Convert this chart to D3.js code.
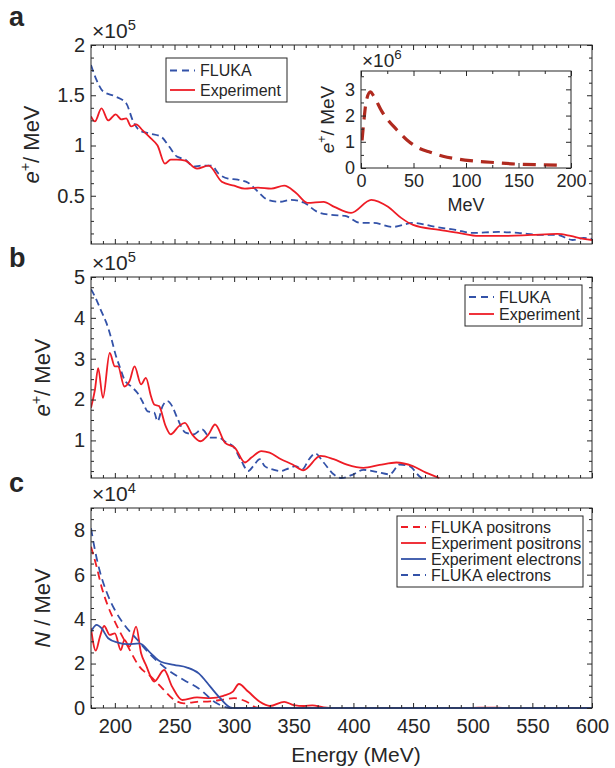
<!DOCTYPE html>
<html>
<head>
<meta charset="utf-8">
<script src="https://cdn.jsdelivr.net/npm/d3@7"></script>
<style>
  body { margin: 0; background: #fff; }
  svg text { font-family: "Liberation Sans", Arial, Helvetica, sans-serif; fill: #262626; }
</style>
</head>
<body>
<div id="app"></div>
<script>
// ---- data (energy in MeV, counts already divided by the axis multiplier) ----
// panel a, x 1e5
const aFluka = [[180,1.80],[184.7,1.65],[190,1.54],[200,1.49],[209.5,1.42],[215,1.25],[220.6,1.15],[229,1.12],[238.5,1.09],[245.5,0.99],[252,0.89],[259,0.86],[266,0.79],[273,0.80],[281,0.80],[287,0.72],[295,0.67],[303,0.66],[311.7,0.63],[320,0.54],[328,0.46],[338,0.44],[347.6,0.46],[358.7,0.43],[369.7,0.34],[380.7,0.31],[393,0.30],[405.6,0.23],[416.7,0.23],[433,0.19],[450,0.23],[469,0.19],[485.7,0.16],[499.5,0.13],[521.6,0.14],[538,0.13],[557.5,0.11],[571,0.11],[583.6,0.06],[593,0.08],[600,0.07]]
const aExp = [[180,1.29],[183.3,1.24],[188.8,1.37],[194.4,1.25],[200.7,1.31],[205.4,1.26],[209.5,1.27],[213.6,1.19],[217.8,1.21],[223.3,1.15],[230.2,1.07],[235.8,1.00],[242,0.82],[246.8,0.86],[252,0.86],[259,0.85],[268.9,0.77],[278.6,0.80],[289.6,0.64],[300,0.60],[309,0.57],[320,0.58],[331,0.57],[342,0.60],[351.7,0.53],[361.4,0.43],[375,0.44],[384,0.39],[398,0.33],[415,0.46],[429,0.39],[440,0.28],[450,0.21],[472,0.16],[488,0.13],[505,0.10],[527,0.10],[549,0.11],[571,0.12],[582,0.10],[593,0.07],[600,0.06]]
// inset, x 1e6
const insetData = [[1,1.05],[3,1.9],[5,2.55],[9,2.9],[12,2.75],[19.7,2.17],[34,1.46],[43.5,1.08],[54,0.78],[66,0.6],[78,0.45],[91,0.35],[104,0.28],[123,0.22],[148,0.15],[174,0.12],[192,0.10]]
// panel b, x 1e5
const bFluka = [[180,4.70],[183.3,4.52],[188.8,4.15],[193,3.87],[197,3.5],[201,3.06],[204,2.81],[208,2.49],[213.7,2.32],[219,2.16],[223,1.96],[227.5,1.71],[233,1.68],[235.8,1.47],[240,1.84],[244,1.96],[248,1.84],[252.3,1.55],[259.3,1.19],[266,1.15],[273,1.27],[280,1.07],[287,1.07],[293.7,0.94],[299,0.86],[306,0.50],[311.7,0.25],[316,0.37],[321.5,0.54],[325.6,0.37],[332.4,0.29],[339,0.25],[343.5,0.29],[351.7,0.37],[357,0.29],[362.8,0.54],[368,0.68],[375,0.46],[383.4,0.17],[390,0.08],[400,0.17],[408.4,0.28],[419.4,0.23],[430.4,0.17],[438.7,0.41],[447,0.37],[455,0.13],[461,0.0]]
const bExp = [[180,1.80],[183.3,2.24],[186,2.77],[190,2.04],[195.7,3.14],[200,2.81],[202.6,2.81],[208,2.32],[212.3,2.45],[216.5,2.81],[222,2.37],[226,2.53],[230.3,2.08],[233,1.88],[237,1.84],[242.6,1.35],[246.8,1.15],[253.7,1.35],[258.7,1.43],[264.7,1.15],[271.7,0.98],[278.6,1.15],[284,1.39],[292.4,0.94],[300.7,0.82],[309,0.46],[314.5,0.58],[322.8,0.74],[329.7,0.70],[339.3,0.54],[349,0.41],[358,0.27],[372.4,0.62],[383.4,0.54],[394.6,0.41],[408.4,0.33],[422,0.40],[436,0.46],[449.8,0.37],[460.8,0.21],[472,0.08]]
// panel c, x 1e4
const cFlukaPos = [[180,7.26],[184.7,6.36],[188.8,5.46],[194.4,4.56],[201.3,3.74],[211,2.76],[220.6,1.86],[230.2,1.41],[238.5,0.96],[248,0.44],[257.8,0.21],[268.9,0.28],[280,0.30],[291,0.38],[300,0.44],[307,0.36],[313,0.21],[318,0.03],[325,0],[600,0]]
const cExpPos = [[180,3.59],[184,2.58],[187.5,3.21],[191,3.69],[195.7,3.29],[200,3.36],[205,2.61],[208,3.06],[212.3,2.76],[217.8,3.66],[222,2.46],[226,1.94],[233,1.19],[241.3,1.71],[248,0.96],[256.5,0.36],[268.9,0.48],[280,0.44],[291,0.55],[299,0.74],[304,1.08],[311.7,0.74],[321.5,0.28],[330,0.09],[342,0.28],[350,0.13],[358.6,0.09],[365.6,0.12],[375,0.03],[385,0],[495,0],[505,0.02],[520,0.02],[530,0],[600,0]]
const cExpEle = [[180,3.43],[184.7,3.74],[188.8,3.59],[194.4,3.14],[202.6,2.94],[211,2.87],[220.6,2.91],[230.2,2.46],[238.5,2.08],[249.6,1.94],[260.6,1.82],[270.3,1.56],[280,0.96],[288.3,0.44],[296.6,0.03],[300,0],[600,0]]
const cFlukaEle = [[180,8.09],[183.3,7.11],[187.5,6.13],[193,5.23],[200,4.41],[208,3.74],[219,3.06],[230,2.39],[242.6,1.79],[257.8,1.26],[270,0.89],[285.5,0.21],[296.6,0],[600,0]]

// tick values
const xMajor = [200, 250, 300, 350, 400, 450, 500, 550, 600]
const aTicks = [0.5, 1, 1.5, 2]
const bTicks = [1, 2, 3, 4, 5]
const cTicks = [0, 2, 4, 6, 8]
const insetXTicks = [0, 50, 100, 150, 200]
const insetYTicks = [0, 1, 2, 3]

const red = '#ee1c25', blue = '#3352a8', darkRed = '#b02a1f', ink = '#262626'

const plotLeft = 91, plotRight = 592

const svg = d3.select('#app')
              .append('svg')
                .attr('width', 615)
                .attr('height', 768)

const xScale = d3.scaleLinear()
                  .domain([180, 600])
                  .range([plotLeft, plotRight])

// MATLAB-like box: ticks inward on all four sides
function drawAxes(g, x, y, o) {
  const [x0, x1] = x.range()
  const [y0, y1] = y.range()
  const sides = [
    { gen: d3.axisBottom, scale: x, t: `translate(0,${y0})`, major: o.xMajor, minor: o.xMinor, labels: o.xLabels, pad: o.xPad },
    { gen: d3.axisTop, scale: x, t: `translate(0,${y1})`, major: o.xMajor, minor: o.xMinor, labels: false },
    { gen: d3.axisLeft, scale: y, t: `translate(${x0},0)`, major: o.yMajor, minor: o.yMinor, labels: true, pad: o.yPad },
    { gen: d3.axisRight, scale: y, t: `translate(${x1},0)`, major: o.yMajor, minor: o.yMinor, labels: false },
  ]
  sides.forEach(s => {
    const minorVals = s.minor.filter(v => !s.major.some(m => Math.abs(m - v) < 1e-9))
    const mn = g.append('g').attr('transform', s.t)
                .call(s.gen(s.scale).tickValues(minorVals).tickSize(-3).tickFormat(''))
    const mj = g.append('g').attr('transform', s.t)
                .call(s.gen(s.scale).tickValues(s.major).tickSize(-5)
                       .tickPadding(s.pad || 3)
                       .tickFormat(s.labels ? d3.format('~g') : ''))
    ;[mn, mj].forEach(a => {
      a.select('.domain').remove()
      a.selectAll('line').attr('stroke', ink)
      a.selectAll('text').attr('font-size', o.fontSize)
    })
  })
  g.append('rect')
    .attr('x', x0).attr('y', y1)
    .attr('width', x1 - x0).attr('height', y0 - y1)
    .attr('fill', 'none').attr('stroke', ink).attr('stroke-width', 1)
}

function drawSeries(g, x, y, series, clipId) {
  const [x0, x1] = x.range()
  const [y0, y1] = y.range()
  // a little slack at the bottom so lines lying on zero stay visible
  svg.append('clipPath').attr('id', clipId)
     .append('rect').attr('x', x0).attr('y', y1).attr('width', x1 - x0).attr('height', y0 - y1 + 1.5)
  const line = d3.line()
                 .x(d => x(d[0]))
                 .y(d => y(d[1]))
                 .curve(d3.curveMonotoneX)
  g.append('g')
    .attr('clip-path', `url(#${clipId})`)
    .selectAll('path')
    .data(series)
    .join('path')
      .attr('d', d => line(d.data))
      .attr('fill', 'none')
      .attr('stroke', d => d.color)
      .attr('stroke-width', d => d.width || 1.8)
      .attr('stroke-dasharray', d => d.dash)
}

function drawLegend(g, box, series) {
  g.append('rect')
    .attr('x', box.x).attr('y', box.y).attr('width', box.w).attr('height', box.h)
    .attr('fill', '#fff').attr('stroke', ink).attr('stroke-width', 1)
  const rows = g.selectAll('.row')
                .data(series)
                .join('g')
                  .attr('transform', (d, i) => `translate(0,${box.rows[i]})`)
  rows.append('line')
    .attr('x1', box.x + 4).attr('x2', box.x + 29)
    .attr('stroke', d => d.color).attr('stroke-width', 1.8)
    .attr('stroke-dasharray', d => d.dash ? '7,5' : null)
  rows.append('text')
    .attr('x', box.x + 34).attr('dy', '0.35em')
    .attr('font-size', 16)
    .text(d => d.name)
}

function multiplier(g, x, y, exp, size) {
  const t = g.append('text').attr('x', x).attr('y', y).attr('font-size', size)
  t.append('tspan').text('×10')
  t.append('tspan').attr('font-size', size * 0.7).attr('dy', -size * 0.4).text(exp)
}

function yLabel(g, x, y, size, italic, rest) {
  const t = g.append('text')
              .attr('transform', `translate(${x},${y}) rotate(-90)`)
              .attr('text-anchor', 'middle')
              .attr('font-size', size)
  t.append('tspan').attr('font-style', 'italic').text(italic)
  if (italic === 'e') {
    t.append('tspan').attr('font-size', size * 0.65).attr('dy', -size * 0.4).text('+')
    t.append('tspan').attr('dy', size * 0.4).text('/ MeV')
  } else {
    t.append('tspan').text(rest)
  }
}

const minorX = d3.range(180, 601, 10)

// panels
const panels = [
  { letter: 'a', letterY: 26, top: 45, bottom: 244, domain: [0.02, 2], ticks: aTicks, minor: d3.range(0.125, 2.01, 0.125), exp: '5',
    ylabX: 39, italic: 'e',
    series: [
      { name: 'FLUKA', data: aFluka, color: blue, dash: '7,4' },
      { name: 'Experiment', data: aExp, color: red }
    ],
    legend: { x: 166, y: 58, w: 121, h: 44, rows: [70.5, 90] } },
  { letter: 'b', letterY: 267, top: 277, bottom: 478, domain: [0.08, 5], ticks: bTicks, minor: d3.range(0.25, 5.01, 0.25), exp: '5',
    ylabX: 50, italic: 'e',
    series: [
      { name: 'FLUKA', data: bFluka, color: blue, dash: '7,4' },
      { name: 'Experiment', data: bExp, color: red }
    ],
    legend: { x: 465, y: 285, w: 117, h: 41, rows: [297, 314] } },
  { letter: 'c', letterY: 492, top: 508, bottom: 708, domain: [0, 9], ticks: cTicks, minor: d3.range(0, 9.01, 0.5), exp: '4',
    ylabX: 50, italic: 'N', rest: ' / MeV', xLabels: true,
    series: [
      { name: 'FLUKA positrons', data: cFlukaPos, color: red, dash: '8,5' },
      { name: 'Experiment positrons', data: cExpPos, color: red },
      { name: 'Experiment electrons', data: cExpEle, color: blue },
      { name: 'FLUKA electrons', data: cFlukaEle, color: blue, dash: '8,5' }
    ],
    legend: { x: 397, y: 516, w: 186, h: 71, rows: [527, 543, 559, 575] } }
]

panels.forEach((p, i) => {
  const g = svg.append('g')
  const yScale = d3.scaleLinear().domain(p.domain).range([p.bottom, p.top])
  drawSeries(g, xScale, yScale, p.series, 'clip' + i)
  drawAxes(g, xScale, yScale, {
    xMajor: xMajor, xMinor: minorX, xLabels: !!p.xLabels, xPad: 11,
    yMajor: p.ticks, yMinor: p.minor, yPad: 6, fontSize: 20
  })
  drawLegend(g, p.legend, p.series)
  multiplier(g, plotLeft + 1, p.top - 7, p.exp, 21)
  yLabel(g, p.ylabX, (p.top + p.bottom) / 2, 22, p.italic, p.rest)
  g.append('text')
    .attr('x', 9).attr('y', p.letterY)
    .attr('font-size', 27).attr('font-weight', 'bold')
    .text(p.letter)
})

// x axis title
svg.append('text')
  .attr('x', 356).attr('y', 762)
  .attr('text-anchor', 'middle')
  .attr('font-size', 21)
  .text('Energy (MeV)')

// inset in panel a
const inset = svg.append('g')
const insetX = d3.scaleLinear().domain([0, 200]).range([361, 571])
const insetY = d3.scaleLinear().domain([0, 3.7]).range([168, 71])
inset.append('rect')
  .attr('x', 361).attr('y', 71).attr('width', 210).attr('height', 97)
  .attr('fill', '#fff')
drawSeries(inset, insetX, insetY, [{ data: insetData, color: darkRed, dash: '13,8', width: 3.2 }], 'clipInset')
drawAxes(inset, insetX, insetY, {
  xMajor: insetXTicks, xMinor: d3.range(0, 201, 25), xLabels: true, xPad: 6,
  yMajor: insetYTicks, yMinor: d3.range(0, 3.6, 0.5), yPad: 6, fontSize: 18
})
multiplier(inset, 362, 67, '6', 19)
yLabel(inset, 334, 119.5, 19, 'e')
inset.append('text')
  .attr('x', 466).attr('y', 211)
  .attr('text-anchor', 'middle')
  .attr('font-size', 18)
  .text('MeV')
</script>
</body>
</html>
